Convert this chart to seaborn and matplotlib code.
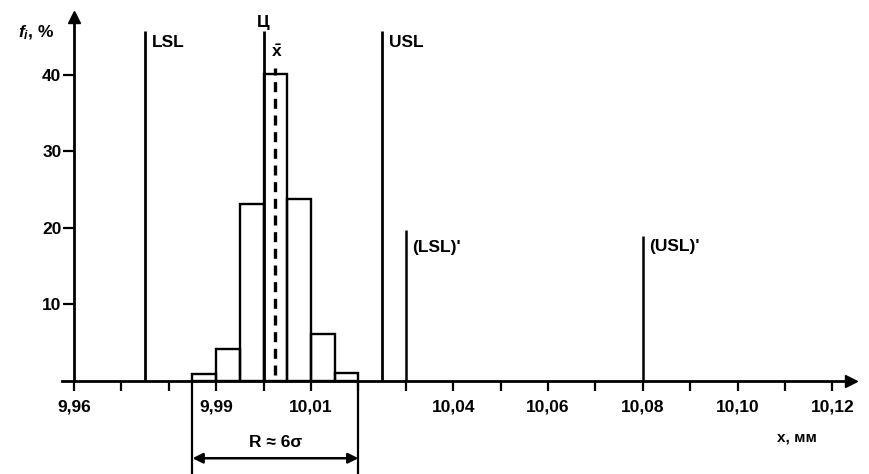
import numpy as np
import matplotlib
matplotlib.use("Agg")
import matplotlib.pyplot as plt
import seaborn as sns

# histogram of part size x, mm: bin edges and share of parts, %
bin_edges = [9.985, 9.99, 9.995, 10.0, 10.005, 10.01, 10.015, 10.02]
freq_pct = [0.9, 4.2, 23.1, 40.1, 23.8, 6.1, 1.0]

# tolerance limits, centre of the tolerance field and the mean
lsl, usl = 9.975, 10.025
lsl_new, usl_new = 10.03, 10.08
centre = 10.0
x_mean = 10.0024

x_ticks = np.round(np.arange(9.96, 10.1201, 0.01), 2)
x_labels = ["9,96", "", "", "9,99", "", "10,01", "", "", "10,04", "",
            "10,06", "", "10,08", "", "10,10", "", "10,12"]
y_ticks = [10, 20, 30, 40]

sns.set_style("white")
plt.rcParams["font.family"] = ["Liberation Sans", "DejaVu Sans"]
plt.rcParams["text.color"] = "black"
plt.rcParams["mathtext.fontset"] = "custom"
plt.rcParams["mathtext.rm"] = "Liberation Sans:bold"
plt.rcParams["mathtext.it"] = "Liberation Sans:bold:italic"

fig = plt.figure(figsize=(8.7, 4.74), dpi=100)
ax = fig.add_axes([0, 0, 1, 1])

centres = [(a + b) / 2 for a, b in zip(bin_edges[:-1], bin_edges[1:])]
sns.histplot(x=centres, weights=freq_pct, bins=bin_edges, fill=False,
             color="black", linewidth=1.7, ax=ax)
ax.set_xlabel("")
ax.set_ylabel("")

# axes mapped so that the drawing sits like the scan
ax.set_xlim(9.94439, 10.12793)
ax.set_ylim(-12.16, 49.8)

for s in ["top", "right"]:
    ax.spines[s].set_visible(False)
ax.spines["left"].set_position(("data", 9.96))
ax.spines["bottom"].set_position(("data", 0))
ax.spines["left"].set_bounds(0, 47.5)
ax.spines["bottom"].set_bounds(9.9575, 10.124)
for s in ["left", "bottom"]:
    ax.spines[s].set_linewidth(2)
    ax.spines[s].set_color("black")
ax.plot(9.96, 47.6, "^", color="black", markersize=9, clip_on=False)
ax.plot(10.124, 0, ">", color="black", markersize=9, clip_on=False)

ax.set_xticks(x_ticks)
ax.set_xticklabels(x_labels)
ax.set_yticks(y_ticks)
ax.set_yticklabels([str(v) for v in y_ticks])
ax.tick_params(axis="x", bottom=True, direction="out", length=7, width=1.6,
               pad=6, labelsize=12.5, colors="black")
ax.tick_params(axis="y", left=True, direction="out", length=8, width=1.6,
               pad=1, labelsize=12.5, colors="black")
for lab in ax.get_xticklabels() + ax.get_yticklabels():
    lab.set_fontweight("bold")

# limit lines
ax.vlines([lsl, usl, centre], 0, 45.7, color="black", lw=2)
ax.vlines(lsl_new, 0, 19.7, color="black", lw=1.8)
ax.vlines(usl_new, 0, 18.9, color="black", lw=1.8)
ax.vlines(x_mean, 0.8, 40.9, color="black", lw=2.4, linestyles=(0, (3, 2)))

txt = dict(fontsize=12.5, fontweight="bold", va="center")
ax.text(9.9764, 44.2, "LSL", ha="left", **txt)
ax.text(10.0264, 44.2, "USL", ha="left", **txt)
ax.text(10.0313, 17.5, "(LSL)'", ha="left", **txt)
ax.text(10.0813, 17.6, "(USL)'", ha="left", **txt)
ax.text(centre, 46.9, "Ц", ha="center", **txt)
ax.text(x_mean + 0.0004, 43.0, r"$\bar{\mathrm{x}}$", ha="center", **txt)
ax.text(9.9481, 45.5, r"$f_i$, %", ha="left", **txt)
ax.text(10.1125, -7.45, "x, мм", ha="center", fontsize=11,
        fontweight="bold", va="center")

# range bracket R = 6 sigma
ax.vlines([bin_edges[0], bin_edges[-1]], -12.2, 0, color="black", lw=1.6)
ax.annotate("", xy=(bin_edges[0], -10.1), xytext=(bin_edges[-1], -10.1),
            arrowprops=dict(arrowstyle="<|-|>", lw=1.8, color="black",
                            shrinkA=0, shrinkB=0, mutation_scale=15))
ax.text(10.0025, -8.0, "R ≈ 6σ", ha="center", **txt)

fig.savefig("out.png", dpi=100)
